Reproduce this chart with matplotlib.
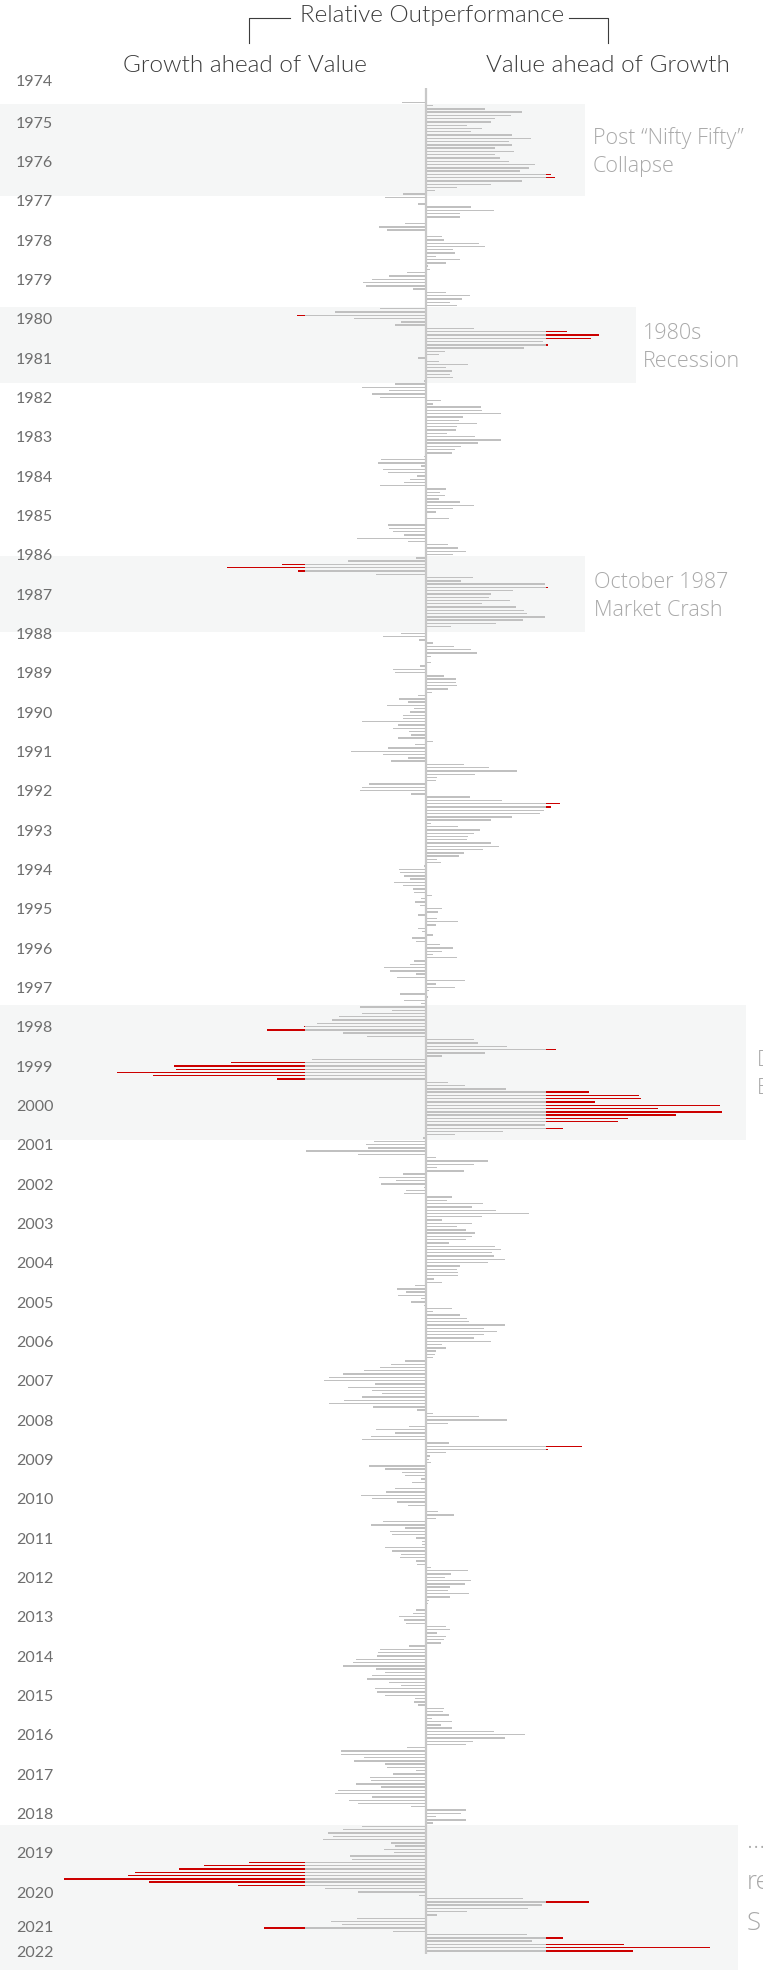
# Value vs Growth relative outperformance, monthly bars
import numpy as np
import pandas as pd
import matplotlib
matplotlib.use('Agg')
import matplotlib.pyplot as plt
from matplotlib.patches import Rectangle
from matplotlib.lines import Line2D

plt.rcParams['font.family'] = ['Lato', 'DejaVu Sans']

# one value per month, first bar is Dec 1974 (negative = growth ahead of value)
first_month = '1974-12'
rel_perf = [
    -4.9,
    1.5, 12.2, 19.8, 17.5, 14.3, 13.5, 8.5, 11.5, 9.2, 17.7, 21.7, 17.2,            # 1975
    17.7, 14.3, 18.1, 14.3, 15.3, 17.0, 22.5, 21.3, 19.3, 25.8, 26.5, 19.8,         # 1976
    13.5, 6.5, 1.8, -4.7, -8.3, 0.0, -1.7, 9.2, 14.1, 7.1, 7.1, 0.0,                # 1977
    -4.3, -9.7, -8.0, 0.3, 3.3, 3.7, 11.0, 12.2, 5.6, 6.1, 2.1, 7.1,                # 1978
    4.1, 0.5, 0.9, -3.9, -7.5, -11.1, -12.9, -12.3, -2.7, 4.1, 9.0, 7.5,            # 1979
    5.0, 6.5, -9.5, -18.7, -26.5, -14.8, -5.0, -6.3, 10.0, 29.1, 35.5, 34.0,        # 1980
    24.1, 25.1, 20.2, 3.9, 2.8, -1.7, 2.8, 8.7, 4.1, 5.3, 5.0, 5.5,                 # 1981
    -0.3, -6.3, -13.1, -7.5, -11.1, -9.5, 3.1, 1.4, 11.3, 11.5, 15.4, 7.7,          # 1982
    6.8, 10.6, 6.5, 6.3, 4.3, 10.2, 15.5, 10.8, 7.2, 6.1, 5.4, -0.3,                # 1983
    -9.1, -9.9, -0.9, -8.7, -7.8, -1.8, -3.3, -4.5, -9.5, 4.1, 3.0, 3.9,            # 1984
    2.7, 7.0, 10.0, 5.6, 2.2, -0.2, 4.7, 0.0, -7.7, -7.5, -6.7, -4.5,               # 1985
    -14.1, -3.7, 4.5, 6.7, 8.3, 5.5, -2.0, -16.0, -29.5, -40.9, -26.3, -10.3,       # 1986
    9.7, 7.3, 24.4, 25.2, 17.9, 13.5, 13.0, 17.3, 11.5, 18.5, 20.1, 20.8,           # 1987
    24.5, 20.0, 14.5, 5.2, 0.0, -5.1, -8.7, -1.3, 1.5, 5.7, 9.3, 10.5,              # 1988
    1.0, 0.0, 1.1, -1.2, -6.7, -6.4, 3.8, 6.2, 6.3, 6.5, 4.5, 1.2,                  # 1989
    -1.5, -5.5, -3.7, -8.0, -2.4, -3.2, -4.7, -4.7, -13.1, -5.7, -6.7, -3.4,        # 1990
    -3.0, -5.8, 1.5, -2.3, -7.8, -15.3, -8.7, -3.7, -7.2, 7.8, 12.9, 18.8,          # 1991
    10.2, 2.3, 2.2, -11.7, -13.2, -13.5, -3.0, 9.0, 15.7, 27.5, 25.8, 24.3,         # 1992
    23.4, 17.8, 13.5, 1.1, 6.6, 11.1, 9.9, 8.7, 8.5, 13.5, 15.1, 11.7,              # 1993
    7.8, 6.8, 2.4, 3.2, -0.4, -5.5, -5.3, -4.5, -3.3, -6.5, -4.7, -2.7,             # 1994
    -2.5, 1.3, -0.9, -2.3, -1.1, 3.3, 2.6, -1.5, 2.4, 6.6, 2.2, -1.7,               # 1995
    -0.8, 1.4, -2.8, -2.0, 3.0, 5.5, 3.3, 1.4, 6.5, -2.5, -3.2, -8.5,               # 1996
    -7.3, -2.0, -6.0, 8.0, 2.1, 6.0, 0.7, -5.3, 0.4, -4.5, -0.9, -13.5,             # 1997
    -7.0, -13.2, -17.8, -19.2, -22.4, -25.0, -32.6, -17.0, -12.1, 10.0, 10.8, 16.6, # 1998
    26.8, 12.1, 3.3, -23.3, -40.1, -51.8, -51.3, -63.4, -56.1, -30.6, 4.5, 8.0,     # 1999
    16.5, 33.5, 43.8, 44.2, 34.7, 60.5, 47.7, 60.9, 51.5, 41.5, 39.5, 24.4,         # 2000
    28.2, 15.8, 6.0, -0.5, -10.7, -12.3, -11.9, -24.7, -14.0, 2.0, 12.7, 9.9,       # 2001
    2.3, 7.8, -4.6, -9.6, -6.1, -9.2, -0.4, -4.0, -4.4, 5.3, 4.3, 11.7,             # 2002
    9.6, 14.5, 21.3, 11.5, 3.4, 9.6, 6.5, 8.3, 10.1, 9.4, 8.2, 4.8,                 # 2003
    14.3, 15.5, 13.7, 14.1, 16.2, 12.8, 7.0, 6.4, 6.7, 6.6, 1.6, 3.3,               # 2004
    -2.2, -6.0, -4.1, -5.8, -0.9, -3.0, -0.3, 5.4, 1.5, 7.1, 8.4, 8.8,              # 2005
    16.3, 11.9, 14.7, 12.0, 9.9, 13.4, 3.4, 4.1, 2.0, 1.8, 1.5, -4.3,               # 2006
    -7.1, -9.4, -12.7, -17.0, -19.9, -20.9, -10.4, -15.9, -11.0, -9.0, -13.2, -16.8, # 2007
    -19.8, -10.8, -1.9, 1.5, 11.0, 16.6, 4.5, -3.5, -10.3, -6.3, -11.3, -13.2,      # 2008
    4.7, 32.2, 25.1, 4.2, 0.9, 0.6, 1.0, -11.6, -8.4, -4.8, -4.3, -0.9,             # 2009
    -2.8, 0.0, -6.3, -8.2, -13.4, -11.1, -6.0, -3.6, 0.0, 2.6, 5.7, 2.2,            # 2010
    -8.7, -11.2, -4.2, -7.3, -7.0, -2.0, -0.8, -0.7, -8.4, -6.9, -5.1, -5.4,        # 2011
    -2.0, -1.9, 1.1, 8.6, 5.2, 4.0, 9.2, 8.1, 4.9, 4.6, 8.8, 4.9,                   # 2012
    0.7, 0.4, 0.0, -2.0, -2.7, -5.5, -4.5, -4.0, 4.2, 5.0, 2.3, 4.1,                # 2013
    3.8, 3.1, -3.5, -9.4, -9.9, -10.1, -14.4, -15.0, -17.1, -10.3, -8.4, -11.1,     # 2014
    -12.0, -7.5, -5.1, -10.4, -10.1, -8.4, -2.2, -2.4, -1.7, 3.8, 3.6, 4.7,         # 2015
    1.3, 5.3, 3.2, 5.3, 14.1, 20.3, 16.2, 9.8, 8.2, -3.9, -17.4, -17.5,             # 2016
    -12.6, -14.8, -8.3, -7.9, -2.0, -6.7, -11.5, -11.3, -14.4, -9.1, -18.0, -18.7,  # 2017
    -11.0, -15.7, -14.0, -3.0, 8.3, 7.3, 2.2, 8.3, 1.5, -13.2, -17.0, -20.0,        # 2018
    -19.0, -21.2, -7.2, -6.3, -8.5, -6.5, -15.5, -15.2, -36.3, -45.5, -50.7, -59.8, # 2019
    -61.2, -74.4, -56.8, -38.5, -20.8, -14.0, -1.3, 20.0, 33.5, 23.8, 21.1, 8.5,    # 2020
    2.3, -14.2, -19.5, -17.3, -33.2, -6.7, 20.7, 28.2, 21.8, 40.8, 58.5, 42.5,      # 2021
]
threshold = 24.8   # beyond this the bar turns red

years = list(range(1974, 2023))

# highlighted periods: first month, last month, note
period_start = ['1975-01', '1980-03', '1986-07', '1997-12', '2018-10']
period_end = ['1977-04', '1982-01', '1988-05', '2001-04', '2021-12']
period_notes = ['Post \u201cNifty Fifty\u201d\nCollapse',
                '1980s\nRecession',
                'October 1987\nMarket Crash',
                'Dot-com\nBubble',
                '\u2026\nrecent\nS  ']

# layout
band_right = [32.7, 43.2, 32.7, 65.8, 64.2]
note_x = [34.3, 44.7, 34.5, 68.0, 66.0]
GRAY = '#c0c0c0'
RED = '#cc0000'
BAND = '#f5f6f6'
NOTE = '#a9a9a9'
HEAD = '#3c3c3c'
NOTE_FONT = ['Open Sans', 'Lato', 'DejaVu Sans']

vals = np.array(rel_perf)
n = len(vals)
months = pd.period_range(first_month, periods=n, freq='M')
ypos = np.arange(n)

fig = plt.figure(figsize=(7.63, 19.70), dpi=100)
ax = fig.add_axes([0, 0, 1, 1])
ax.set_xlim(-87.5, 69.3)
ax.set_ylim(569.8, -31.2)
ax.axis('off')

# shaded periods with notes
for i in range(len(period_start)):
    s = months.get_loc(pd.Period(period_start[i], 'M'))
    e = months.get_loc(pd.Period(period_end[i], 'M'))
    last = i == len(period_start) - 1
    if last:
        e = e + 6   # last band runs off the bottom
    ax.add_patch(Rectangle((-87.5, s - 0.5), band_right[i] + 87.5, e - s + 1,
                           facecolor=BAND, edgecolor='none', zorder=0))
    mid = (s + min(e, n - 1)) / 2
    if last:
        ax.text(note_x[i], mid - 2.0, period_notes[i], fontsize=18.5, fontweight=300,
                family=NOTE_FONT, color=NOTE, va='center', ha='left', linespacing=1.85)
    else:
        ax.text(note_x[i], mid + 0.7, period_notes[i], fontsize=15.5, fontweight=300,
                family=NOTE_FONT, color=NOTE, va='center', ha='left', linespacing=1.45)

# bars: gray up to the threshold, red beyond
gray_part = np.clip(vals, -threshold, threshold)
ax.barh(ypos, gray_part, height=0.42, color=GRAY, zorder=2)
over = np.abs(vals) > threshold
sign = np.sign(vals[over])
ax.barh(ypos[over], vals[over] - sign * threshold, left=sign * threshold,
        height=0.42, color=RED, zorder=2)

# centre line
ax.vlines(0, -4.3, n - 0.2, color='#c8c8c8', lw=1.6, zorder=3)

# year labels, centred on each year's months
label_pos = {y: (y - 1975) * 12 + 6.5 for y in years}
label_pos[1974] = -6.2
label_pos[2021] = 557.0
label_pos[2022] = 564.7
for y in years:
    ax.text(16 / 763, label_pos[y], str(y), transform=ax.get_yaxis_transform(),
            fontsize=11.5, color='#6e6e6e', va='center', ha='left')

# header
def fx(px):
    return px / 763

def fy(py):
    return 1 - py / 1970

fig.text(fx(432), fy(21.7), 'Relative Outperformance', ha='center', va='baseline',
         fontsize=17.5, fontweight=300, color=HEAD)
fig.text(fx(245), fy(71.5), 'Growth ahead of Value', ha='center', va='baseline',
         fontsize=17.5, fontweight=300, color=HEAD)
fig.text(fx(608), fy(71.5), 'Value ahead of Growth', ha='center', va='baseline',
         fontsize=17.5, fontweight=300, color=HEAD)
fig.add_artist(Line2D([fx(249), fx(249), fx(290)], [fy(42.5), fy(18.3), fy(18.3)],
                      transform=fig.transFigure, color=HEAD, lw=0.8))
fig.add_artist(Line2D([fx(569), fx(608), fx(608)], [fy(18.3), fy(18.3), fy(42.5)],
                      transform=fig.transFigure, color=HEAD, lw=0.8))

fig.savefig('out.png', dpi=100, facecolor='white')
